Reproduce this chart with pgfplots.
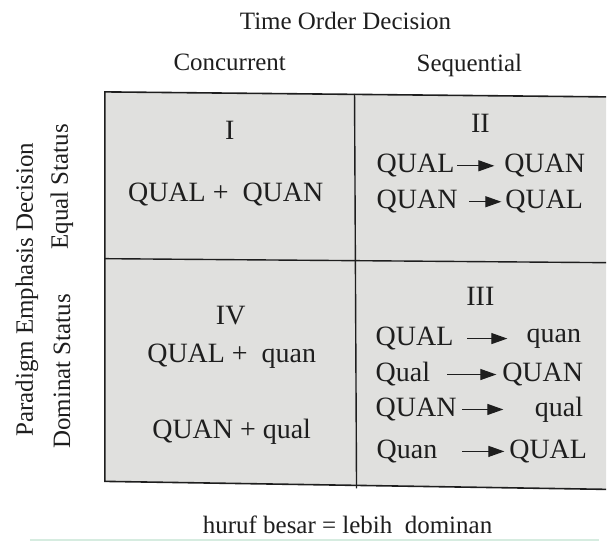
\documentclass[border=0pt]{standalone}
\usepackage{pgfplots}
\pgfplotsset{compat=1.18}
\usepackage{fontspec}
\setmainfont{Liberation Serif}
\usetikzlibrary{arrows.meta}
\definecolor{boxgray}{RGB}{224,224,222}
\definecolor{ink}{RGB}{30,30,30}
\definecolor{mint}{RGB}{214,236,224}
\begin{document}
\begin{tikzpicture}
\begin{axis}[
    scale only axis,
    width=607pt, height=542pt,
    xmin=0, xmax=607, ymin=0, ymax=542,
    y dir=reverse,
    hide axis, clip=false,
    arr/.style={ink, line width=1.2pt, -{Triangle[length=16pt,width=11pt]}},
]
% page frame
\addplot[draw=none] coordinates {(0,0) (607,542)};
% cells
\addplot[fill=boxgray, draw=none] coordinates {(105,92) (607,97) (607,490) (105,482)} -- cycle;
% grid lines
\addplot[ink, line width=1.6pt] coordinates {(607,97) (105,92) (105,482) (607,490)};
\addplot[ink, line width=1.4pt] coordinates {(355,94) (357,489)};
\addplot[ink, line width=1.4pt] coordinates {(105,259) (607,263)};
% scan edge
\addplot[mint, line width=2pt] coordinates {(30,541) (600,541)};
% arrows
\addplot[arr] coordinates {(458,166) (495,166)};
\addplot[arr] coordinates {(470,202) (502,202)};
\addplot[arr] coordinates {(468,339) (508,339)};
\addplot[arr] coordinates {(448,375) (497,375)};
\addplot[arr] coordinates {(463,410) (504,410)};
\addplot[arr] coordinates {(463,452) (505,452)};
% headings
\node[ink, font=\fontsize{25}{28}\selectfont] at (axis cs:346,21) {Time Order Decision};
\node[ink, font=\fontsize{25}{28}\selectfont] at (axis cs:230,62) {Concurrent};
\node[ink, font=\fontsize{25}{28}\selectfont] at (axis cs:470,66) {Sequential};
\node[ink, rotate=90, font=\fontsize{25}{28}\selectfont] at (axis cs:27,290) {Paradigm Emphasis Decision};
\node[ink, rotate=90, font=\fontsize{25}{28}\selectfont] at (axis cs:62,187) {Equal Status};
\node[ink, rotate=90, font=\fontsize{25}{28}\selectfont] at (axis cs:62,372) {Dominat Status};
\node[ink, font=\fontsize{25}{28}\selectfont] at (axis cs:348,526) {huruf besar = lebih\ \ dominan};
% cell I
\node[ink, font=\fontsize{28}{32}\selectfont] at (axis cs:230,131) {I};
\node[ink, font=\fontsize{28}{32}\selectfont] at (axis cs:226,195) {QUAL + \ QUAN};
% cell II
\node[ink, font=\fontsize{28}{32}\selectfont] at (axis cs:481,124) {II};
\begin{scope}[every node/.style={ink, font=\fontsize{28}{32}\selectfont, inner sep=0pt}]
\node[anchor=west] at (axis cs:377,166) {QUAL};
\node[anchor=east] at (axis cs:586,166) {QUAN};
\node[anchor=west] at (axis cs:377,202) {QUAN};
\node[anchor=east] at (axis cs:584,202) {QUAL};
% cell III
\node at (axis cs:481,297) {III};
\node[anchor=west] at (axis cs:376,339) {QUAL};
\node[anchor=east] at (axis cs:582,339) {quan};
\node[anchor=west] at (axis cs:376,375) {Qual};
\node[anchor=east] at (axis cs:584,375) {QUAN};
\node[anchor=west] at (axis cs:376,410) {QUAN};
\node[anchor=east] at (axis cs:584,410) {qual};
\node[anchor=west] at (axis cs:377,452) {Quan};
\node[anchor=east] at (axis cs:588,452) {QUAL};
% cell IV
\node at (axis cs:231,316) {IV};
\node at (axis cs:232,357) {QUAL + \ quan};
\node at (axis cs:232,432) {QUAN + qual};
\end{scope}
\end{axis}
\end{tikzpicture}
\end{document}
